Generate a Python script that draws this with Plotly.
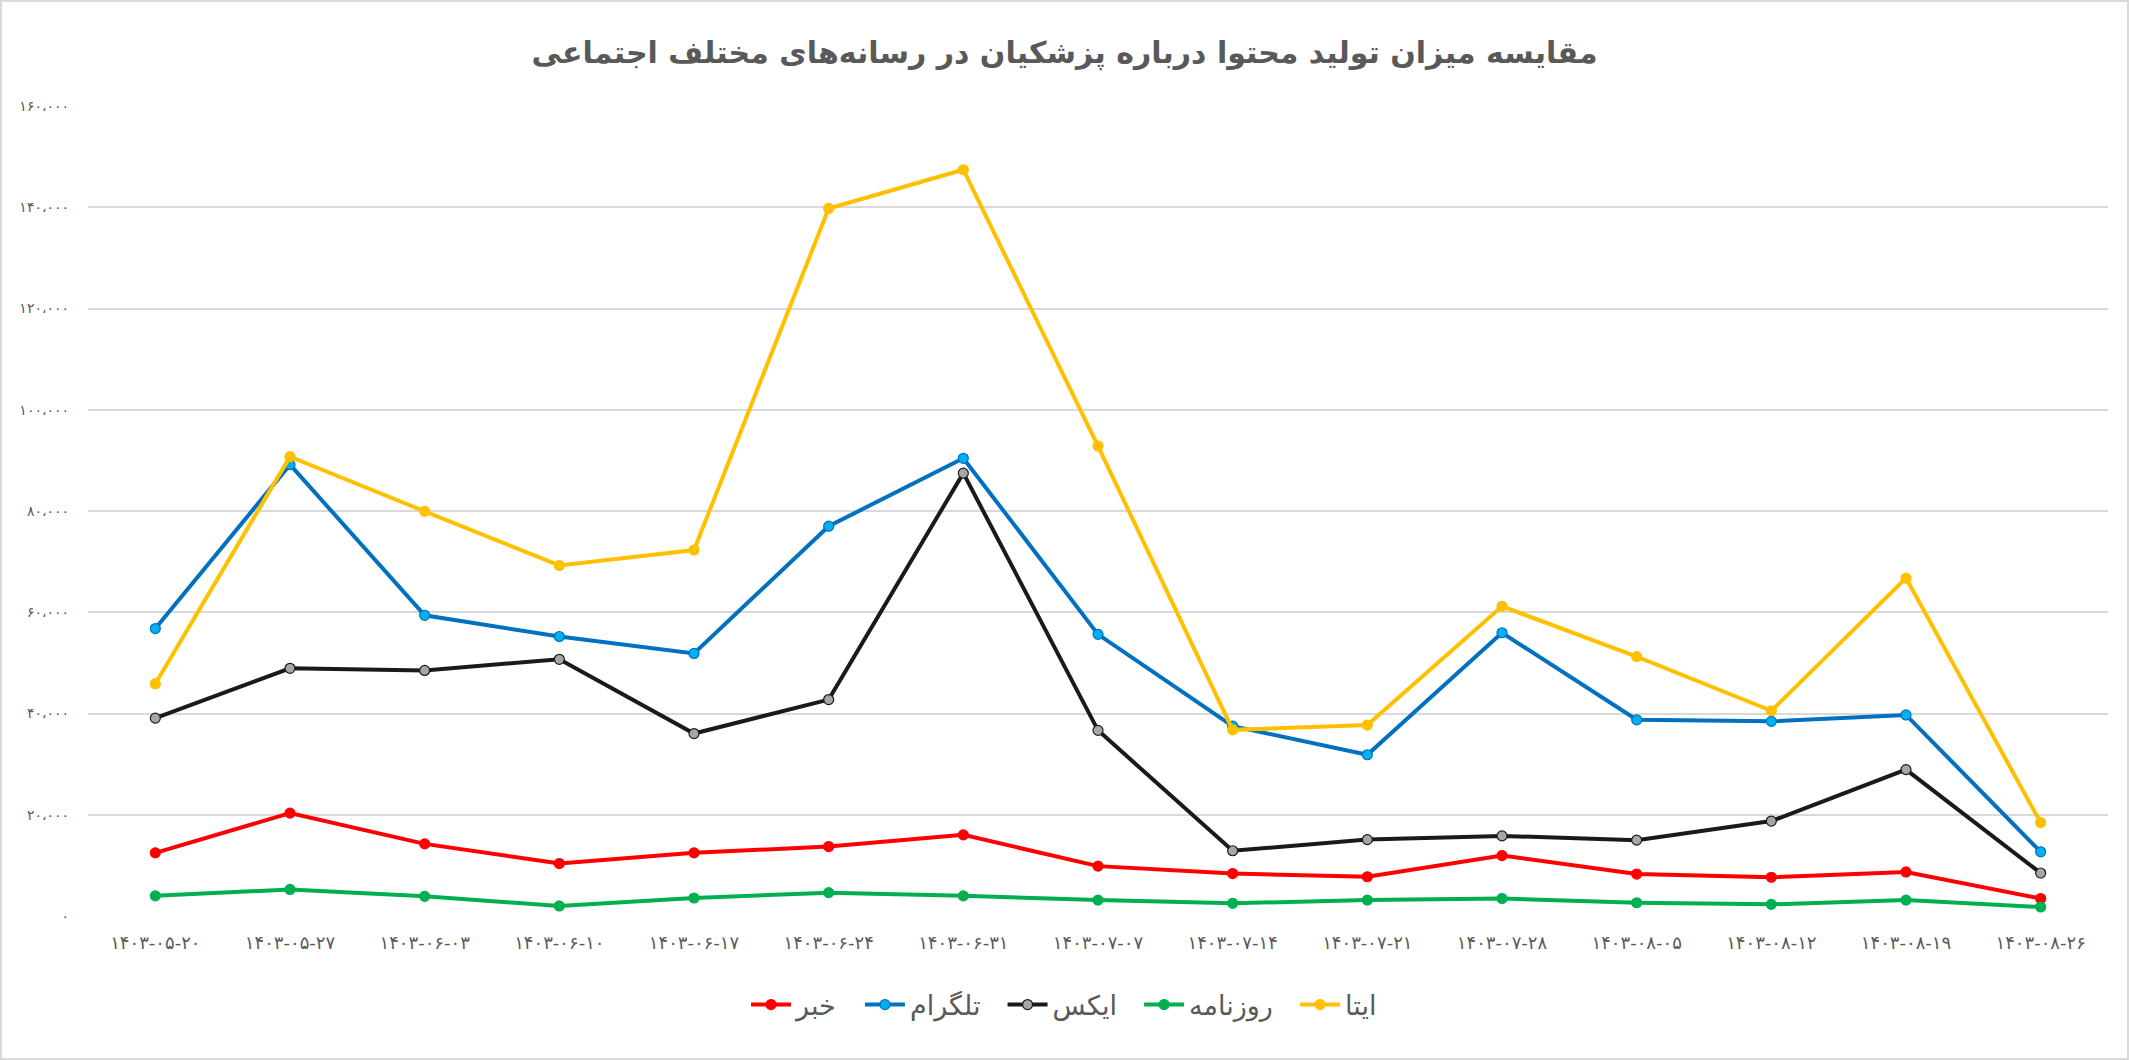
import plotly.graph_objects as go

categories = ["۱۴۰۳-۰۵-۲۰", "۱۴۰۳-۰۵-۲۷", "۱۴۰۳-۰۶-۰۳", "۱۴۰۳-۰۶-۱۰", "۱۴۰۳-۰۶-۱۷",
              "۱۴۰۳-۰۶-۲۴", "۱۴۰۳-۰۶-۳۱", "۱۴۰۳-۰۷-۰۷", "۱۴۰۳-۰۷-۱۴", "۱۴۰۳-۰۷-۲۱",
              "۱۴۰۳-۰۷-۲۸", "۱۴۰۳-۰۸-۰۵", "۱۴۰۳-۰۸-۱۲", "۱۴۰۳-۰۸-۱۹", "۱۴۰۳-۰۸-۲۶"]

khabar = [12470, 20320, 14250, 10370, 12470, 13720, 16030, 9850, 8380, 7750,
          11940, 8280, 7650, 8700, 3460]
telegram = [56780, 89160, 59400, 55210, 51860, 77000, 90410, 55630, 37510, 31850,
            55950, 38760, 38450, 39710, 12680]
x_series = [39080, 48930, 48510, 50710, 36040, 42750, 87480, 36670, 12890, 15090,
            15820, 14980, 18750, 28920, 8490]
rooznameh = [3980, 5240, 3880, 1990, 3560, 4610, 3980, 3140, 2510, 3140,
             3460, 2620, 2300, 3140, 1780]
eitaa = [45890, 90730, 79940, 69250, 72290, 139760, 147410, 92830, 36770, 37720,
         61180, 51230, 40540, 66740, 18440]

series_names = ["خبر", "تلگرام", "ایکس", "روزنامه", "ایتا"]

y_tick_values = [0, 20000, 40000, 60000, 80000, 100000, 120000, 140000, 160000]
y_tick_labels = ["۰", "۲۰،۰۰۰", "۴۰،۰۰۰", "۶۰،۰۰۰", "۸۰،۰۰۰",
                 "۱۰۰،۰۰۰", "۱۲۰،۰۰۰", "۱۴۰،۰۰۰", "۱۶۰،۰۰۰"]

title_text = "مقایسه میزان تولید محتوا درباره پزشکیان در رسانه‌های مختلف اجتماعی"

styles = [
    dict(line="#FF0000", fill="#FF0000", edge="#FF0000"),
    dict(line="#0070C0", fill="#00B0F0", edge="#0070C0"),
    dict(line="#1A1A1A", fill="#A6A6A6", edge="#1A1A1A"),
    dict(line="#00B050", fill="#00B050", edge="#00B050"),
    dict(line="#FFC000", fill="#FFC000", edge="#FFC000"),
]

FONT = "DejaVu Sans"
fig = go.Figure()
series_values = [khabar, telegram, x_series, rooznameh, eitaa]
for i, (name, vals, st) in enumerate(zip(series_names, series_values, styles)):
    pad = "" if i == len(series_names) - 1 else "\u00a0\u00a0"
    fig.add_trace(go.Scatter(
        x=categories, y=vals, name=name + pad, mode="lines+markers",
        line=dict(color=st["line"], width=4),
        marker=dict(size=10, color=st["fill"], line=dict(color=st["edge"], width=1.2)),
    ))

W, H = 2129, 1060
L, R, T, B = 88, 21, 106, 144
pw, ph = W - L - R, H - T - B

fig.update_layout(
    width=W, height=H,
    margin=dict(l=L, r=R, t=T, b=B),
    paper_bgcolor="white", plot_bgcolor="white",
    font=dict(family=FONT, color="#595959"),
    title=dict(text="<b>" + title_text + "</b>", x=0.5, xref="container", xanchor="center",
               y=1 - 52 / H, yref="container", yanchor="middle",
               font=dict(size=30, color="#595959", family=FONT)),
    showlegend=True,
    legend=dict(orientation="h", x=(1064 - L) / pw, xanchor="center",
                y=-(1005 - (H - B)) / ph, yanchor="middle",
                font=dict(size=27, color="#595959", family=FONT),
                itemwidth=40, traceorder="normal"),
    xaxis=dict(type="category", range=[-0.5, len(categories) - 0.5],
               showgrid=False, zeroline=False, showline=False, ticks="",
               tickfont=dict(size=18, color="#595959", family=FONT),
               ticklabelstandoff=14, fixedrange=True),
    yaxis=dict(range=[0, 160000], tickvals=y_tick_values, ticktext=y_tick_labels,
               showgrid=True, gridcolor="#D9D9D9", gridwidth=1.5,
               zeroline=False, showline=False, ticks="",
               tickfont=dict(size=14, color="#595959", family=FONT),
               ticklabelstandoff=18),
    hovermode=False,
    shapes=[dict(type="rect", xref="paper", yref="paper",
                 x0=-(L - 1) / pw, x1=(W - L - 1) / pw,
                 y0=-(B - 1) / ph, y1=(H - B - 1) / ph,
                 line=dict(color="#D9D9D9", width=2), layer="below")],
)

fig.write_html("out.html")
